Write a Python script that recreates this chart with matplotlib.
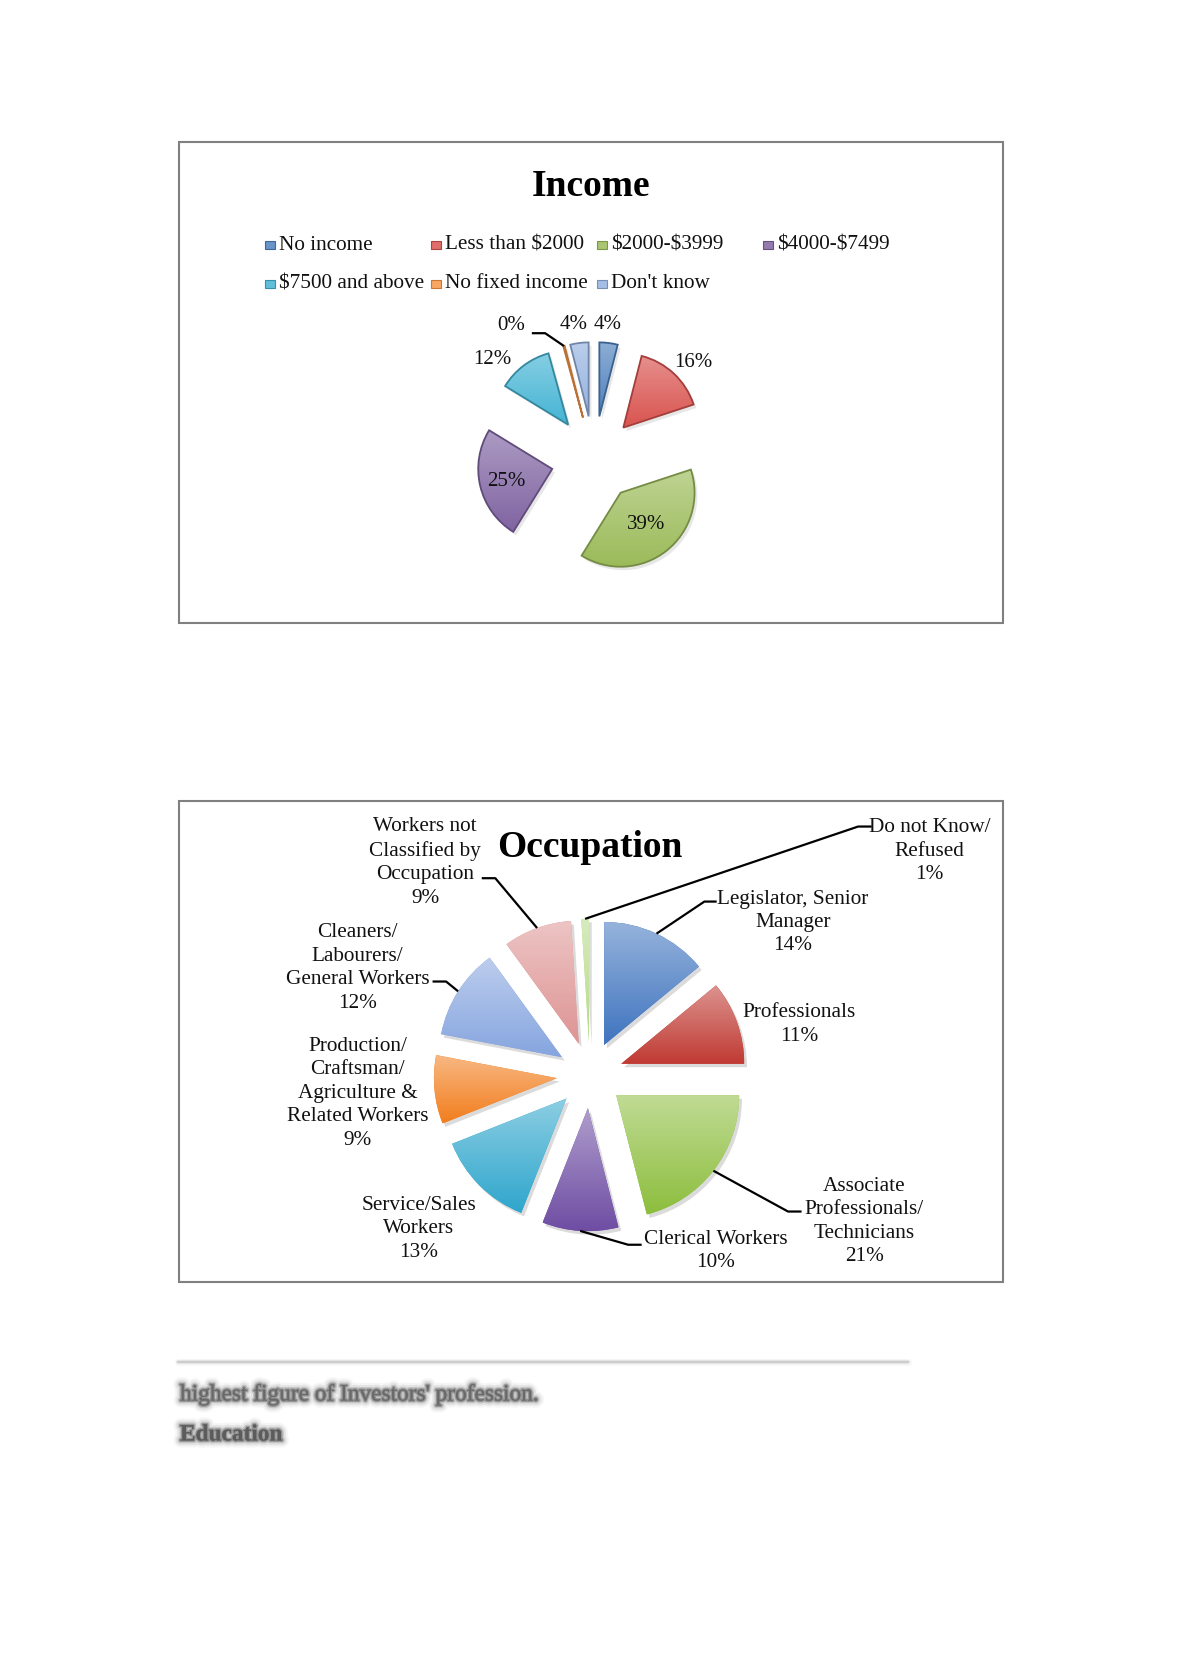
import numpy as np
import matplotlib
matplotlib.use('Agg')
import matplotlib.pyplot as plt
import matplotlib.colors as mcolors
import matplotlib.patheffects as pe
from matplotlib.patches import Rectangle, Wedge

plt.rcParams['font.family'] = ['Liberation Serif', 'DejaVu Serif']

W, H = 1180, 1669

# ---- income data
inc_labels = ['No income', 'Less than $2000', '$2000-$3999', '$4000-$7499',
              '$7500 and above', 'No fixed income', "Don't know"]
inc_values = [4, 16, 39, 25, 12, 0.3, 4]
inc_colors = ['#4F81BD', '#D9534F', '#9BBB59', '#8064A2', '#45B4D4', '#F79646', '#95B3E0']

# ---- occupation data
occ_labels = ['Legislator, Senior\nManager', 'Professionals',
              'Associate\nProfessionals/\nTechnicians', 'Clerical Workers',
              'Service/Sales\nWorkers',
              'Production/\nCraftsman/\nAgriculture &\nRelated Workers',
              'Cleaners/\nLabourers/\nGeneral Workers',
              'Workers not\nClassified by\nOccupation', 'Do not Know/\nRefused']
occ_values = [14, 11, 21, 10, 13, 9, 12, 9, 1]
occ_colors = ['#3F74BF', '#C03A33', '#8DBE3E', '#6E4DA3', '#2FA6CC', '#F27E1E',
              '#86A5DF', '#DE9494', '#B5DB88']

# label placement (pie radius units) and leader lines
inc_label_xy = [(0.19, 1.82), (1.34, 1.31), (0.70, -0.88), (-1.18, -0.30),
                (-1.38, 1.35), (-1.12, 1.80), (-0.28, 1.82)]
inc_leader = [None, None, None, None, None, ((-0.66, 1.70), (-0.84, 1.70)), None]

occ_label_xy = [(1.65, 1.24), (1.70, 0.41), (2.23, -1.19), (1.02, -1.43),
                (-1.39, -1.25), (-1.89, -0.15), (-1.89, 0.87), (-1.34, 1.73),
                (2.76, 1.82)]
occ_leader = [((0.93, 1.41), (1.03, 1.41)), None, ((1.61, -1.11), (1.72, -1.11)),
              ((0.31, -1.38), (0.42, -1.38)), None, None,
              ((-1.17, 0.76), (-1.28, 0.76)), ((-0.77, 1.60), (-0.88, 1.60)),
              ((2.18, 2.02), (2.29, 2.02))]

fig = plt.figure(figsize=(W / 100, H / 100), dpi=100)
bg = fig.add_axes([0, 0, 1, 1])
bg.set_xlim(0, W)
bg.set_ylim(H, 0)
bg.axis('off')


def lighten(c, f):
    c = np.array(mcolors.to_rgb(c))
    return tuple(c + (1 - c) * f)


def darken(c, f):
    c = np.array(mcolors.to_rgb(c))
    return tuple(c * (1 - f))


def pie_axes(cx, cy, r, k=3.2):
    s = 2 * k * r
    ax = fig.add_axes([(cx - k * r) / W, 1 - (cy + k * r) / H, s / W, s / H])
    return ax, k


def draw_pie(ax, k, values, colors, explode, top_light, bot_dark, edge, shadow):
    wedges, _ = ax.pie(values, colors=colors, startangle=90, counterclock=False,
                       explode=[explode] * len(values), radius=1)
    for w, c in zip(wedges, colors):
        w.set_path_effects([pe.SimplePatchShadow(offset=(2, -2.5), shadow_rgbFace='#888888',
                                                 alpha=shadow), pe.Normal()])
        w.set_zorder(1)
        v = w.get_path().vertices
        x0, x1 = v[:, 0].min(), v[:, 0].max()
        y0, y1 = v[:, 1].min(), v[:, 1].max()
        t = np.linspace(0, 1, 64)[:, None]
        top = np.array(lighten(c, top_light))
        bot = np.array(darken(c, bot_dark))
        grad = (top * (1 - t) + bot * t)[:, None, :]
        im = ax.imshow(grad, extent=(x0, x1, y0, y1), origin='upper', aspect='auto',
                       zorder=2, interpolation='bilinear')
        im.set_clip_path(w)
        if edge:
            ax.add_patch(Wedge(w.center, w.r, w.theta1, w.theta2, fill=False,
                               ec=darken(c, 0.25), lw=1.3, zorder=3))
    ax.set_xlim(-k, k)
    ax.set_ylim(-k, k)
    ax.axis('off')
    return wedges


def add_labels(ax, wedges, texts, xy, leaders, fs):
    for w, s, (x, y), ld in zip(wedges, texts, xy, leaders):
        ax.text(x, y, s, ha='center', va='center', fontsize=fs, color='#111111',
                linespacing=1.32, zorder=5)
        if ld is not None:
            mid = np.deg2rad((w.theta1 + w.theta2) / 2)
            px = w.center[0] + w.r * np.cos(mid)
            py = w.center[1] + w.r * np.sin(mid)
            ax.plot([px, ld[0][0], ld[1][0]], [py, ld[0][1], ld[1][1]],
                    color='black', lw=1.6, zorder=4, solid_capstyle='butt')


# ---- frames
for top in (142, 801):
    bg.add_patch(Rectangle((179, top), 824, 481, fill=False, ec='#808080', lw=1.5))

# ---- income chart
bg.text(591, 186, 'Income', ha='center', va='center', fontsize=27, fontweight='bold')

ax1, k1 = pie_axes(594, 459, 74)
w1 = draw_pie(ax1, k1, inc_values, inc_colors, 0.58, 0.35, 0.0, True, 0.2)
inc_pct = [f'{round(v)}%' for v in inc_values]
add_labels(ax1, w1, inc_pct, inc_label_xy, inc_leader, 15)

# legend, drawn as four equal columns
for i, (lab, c) in enumerate(zip(inc_labels, inc_colors)):
    lx = 265 + (i % 4) * 166
    ly = 245 + (i // 4) * 39
    bg.add_patch(Rectangle((lx, ly - 4), 10, 8, fc=lighten(c, 0.15), ec=darken(c, 0.2), lw=0.8))
    bg.text(lx + 14, ly, lab, ha='left', va='center', fontsize=15.3, color='#111111',
            parse_math=False)

# ---- occupation chart
bg.text(590, 847, 'Occupation', ha='center', va='center', fontsize=27, fontweight='bold',
        zorder=6)

ax2, k2 = pie_axes(590, 1075, 123, k=3.4)
w2 = draw_pie(ax2, k2, occ_values, occ_colors, 0.27, 0.45, 0.0, False, 0.3)
occ_text = [f'{s}\n{v}%' for s, v in zip(occ_labels, occ_values)]
add_labels(ax2, w2, occ_text, occ_label_xy, occ_leader, 15.3)

# ---- blurred body text under the charts
blur = [pe.Stroke(linewidth=10, foreground='#dddddd', alpha=0.25),
        pe.Stroke(linewidth=7, foreground='#bbbbbb', alpha=0.3),
        pe.Stroke(linewidth=4, foreground='#8a8a8a', alpha=0.35),
        pe.Stroke(linewidth=2, foreground='#666666', alpha=0.5), pe.Normal()]

for lw, a in ((5, 0.04), (3, 0.09), (1.5, 0.15)):
    bg.plot([178, 908], [1362, 1362], color='#444444', lw=lw, alpha=a,
            solid_capstyle='round')
bg.text(180, 1395, "highest figure of Investors' profession.", fontsize=16.8,
        ha='left', va='center', color='#666666', alpha=0.7, path_effects=blur)
bg.text(180, 1435, 'Education', fontsize=16.8, fontweight='bold', ha='left', va='center',
        color='#555555', alpha=0.7, path_effects=blur)

fig.savefig('out.png', dpi=100)
